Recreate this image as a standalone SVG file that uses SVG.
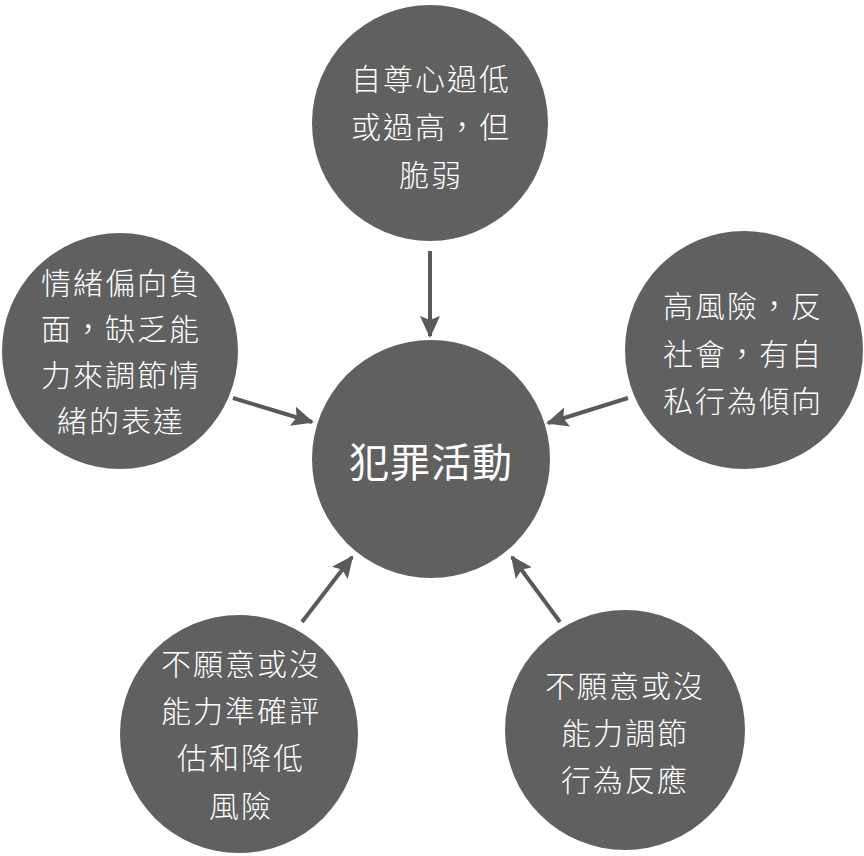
<svg xmlns="http://www.w3.org/2000/svg" width="864" height="856" viewBox="0 0 864 856">
<style>
.n{fill:#606060}
.t{fill:#ffffff;font-family:"Noto Sans CJK TC","Noto Sans CJK SC",sans-serif;font-size:30px;text-anchor:middle;dominant-baseline:central;letter-spacing:2px;font-weight:300}
.c{font-size:40px;letter-spacing:1px;font-weight:400}
.a{stroke:#5a5a5a;stroke-width:4;fill:none;marker-end:url(#ah)}
</style>
<defs>
<marker id="ah" markerUnits="userSpaceOnUse" markerWidth="22" markerHeight="20" refX="20" refY="10" orient="auto" viewBox="0 0 22 20">
<path d="M0,0 L22,10 L0,20 L4,10 z" fill="#5a5a5a"/>
</marker>
</defs>
<rect width="864" height="856" fill="#ffffff"/>
<g id="connectors">
<line class="a" x1="430" y1="251" x2="430" y2="336"/>
<line class="a" x1="233" y1="398" x2="312" y2="422"/>
<line class="a" x1="628" y1="398" x2="548" y2="423"/>
<line class="a" x1="302" y1="622" x2="352" y2="557"/>
<line class="a" x1="560" y1="622" x2="512" y2="557"/>
</g>
<g id="center">
<circle class="n" cx="431" cy="459" r="119"/>
<text class="t c" x="431" y="460">犯罪活動</text>
</g>
<g id="top">
<circle class="n" cx="430" cy="123" r="118"/>
<text class="t" x="431" y="77">自尊心過低</text>
<text class="t" x="431" y="125">或過高，但</text>
<text class="t" x="431" y="173">脆弱</text>
</g>
<g id="left">
<circle class="n" cx="120" cy="351" r="118"/>
<text class="t" x="121" y="281">情緒偏向負</text>
<text class="t" x="121" y="327">面，缺乏能</text>
<text class="t" x="121" y="373">力來調節情</text>
<text class="t" x="121" y="419">緒的表達</text>
</g>
<g id="right">
<circle class="n" cx="744" cy="350" r="119"/>
<text class="t" x="743" y="304">高風險，反</text>
<text class="t" x="743" y="352">社會，有自</text>
<text class="t" x="743" y="399">私行為傾向</text>
</g>
<g id="bottomleft">
<circle class="n" cx="239" cy="734" r="119"/>
<text class="t" x="241" y="662">不願意或沒</text>
<text class="t" x="241" y="709">能力準確評</text>
<text class="t" x="241" y="756">估和降低</text>
<text class="t" x="241" y="804">風險</text>
</g>
<g id="bottomright">
<circle class="n" cx="625" cy="730" r="120"/>
<text class="t" x="625" y="684">不願意或沒</text>
<text class="t" x="625" y="731">能力調節</text>
<text class="t" x="625" y="778">行為反應</text>
</g>
</svg>
